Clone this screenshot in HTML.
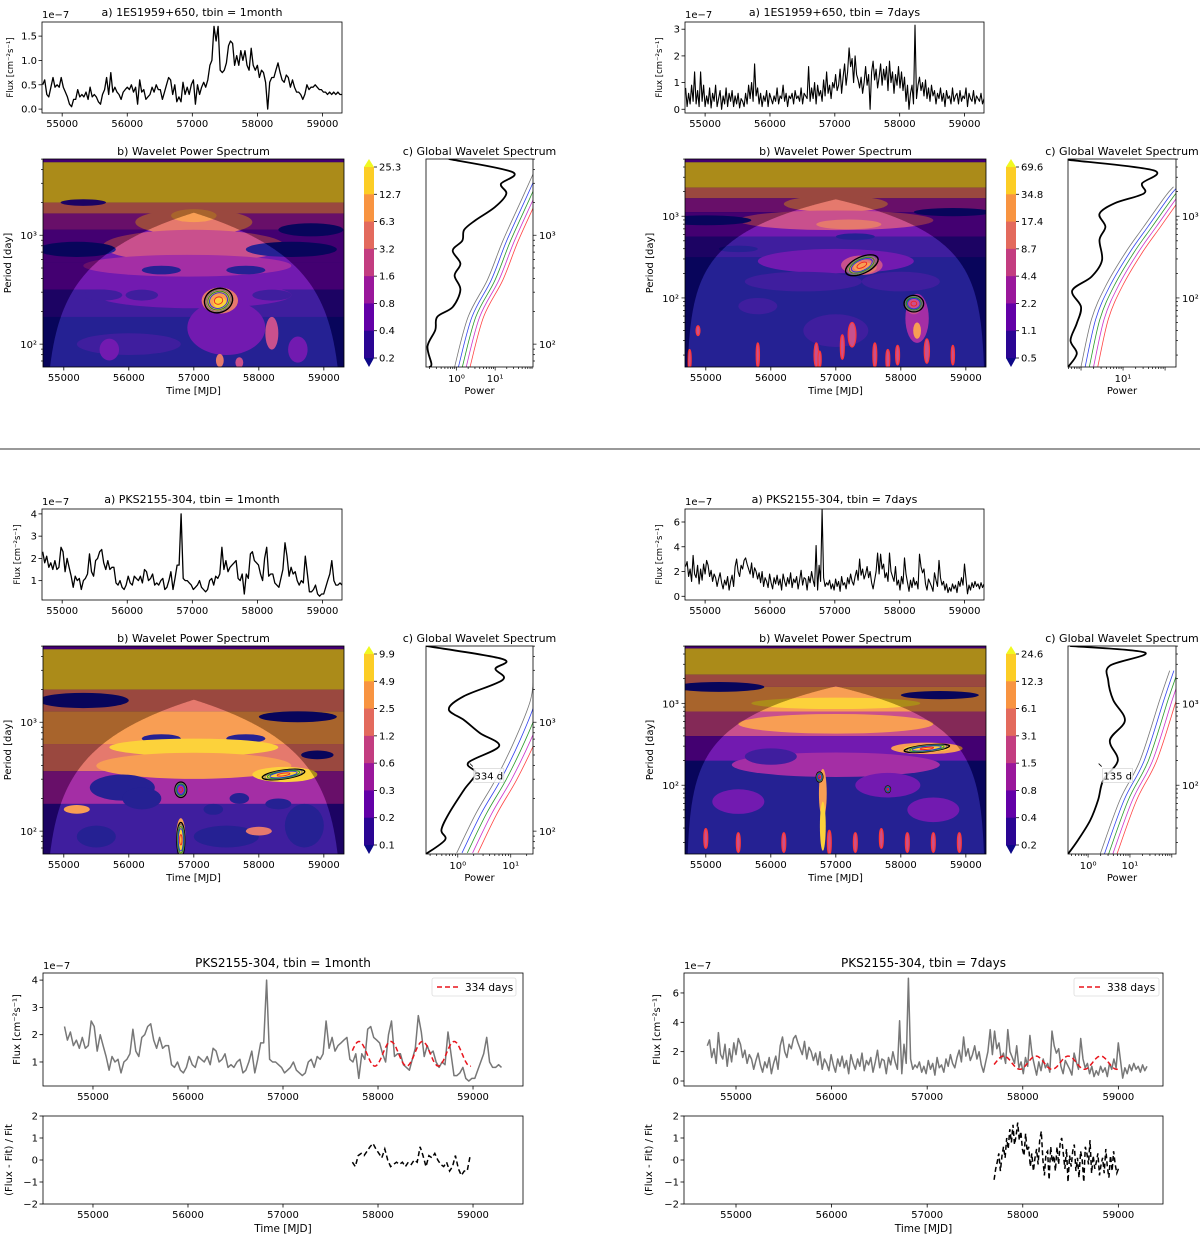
<!DOCTYPE html>
<html><head><meta charset="utf-8"><style>
html,body{margin:0;padding:0;background:#fff;}
svg{display:block;font-family:"DejaVu Sans","Liberation Sans",sans-serif;}
</style></head><body>
<svg id="fig" width="1200" height="1234" viewBox="0 0 1200 1234"></svg>
<script>
// ---------- DATA ----------
const lc1esMonth=[0.5,0.6,0.3,0.25,0.45,0.65,0.45,0.5,0.45,0.65,0.45,0.35,0.25,0.1,0.05,0.2,0.2,0.4,0.25,0.3,0.25,0.35,0.2,0.45,0.25,0.3,0.25,0.15,0.1,0.3,0.4,0.65,0.3,0.75,0.35,0.45,0.35,0.3,0.2,0.35,0.4,0.45,0.4,0.5,0.35,0.45,0.1,0.6,0.35,0.4,0.2,0.25,0.3,0.45,0.35,0.5,0.4,0.4,0.2,0.35,0.5,0.65,0.6,0.3,0.5,0.15,0.25,0.15,0.55,0.3,0.45,0.3,0.5,0.6,0.1,0.5,0.3,0.45,0.55,0.45,0.6,0.9,1.0,1.7,1.4,1.7,0.8,0.75,0.8,0.95,1.3,1.4,1.35,0.9,1.1,0.9,1.2,1.0,1.2,0.9,0.8,1.25,0.9,0.8,0.9,0.65,0.8,0.75,0.55,0.0,0.55,0.65,0.65,0.8,0.95,0.75,0.6,0.55,0.7,0.65,0.45,0.6,0.45,0.35,0.35,0.3,0.2,0.3,0.5,0.4,0.45,0.45,0.5,0.45,0.4,0.4,0.35,0.35,0.3,0.35,0.3,0.35,0.3,0.35,0.3,0.3];
const lc1esWeek=[0.8,0.1,0.6,0.2,0.9,0.3,1.4,0.2,0.7,0.1,1.4,0.3,0.9,0.1,0.5,0.2,0.8,0.05,0.6,0.3,0.9,0.1,0.4,0.7,0.0,0.5,0.2,0.8,0.1,0.6,0.3,0.7,0.1,0.5,0.2,0.6,0.05,0.4,0.3,0.1,0.6,0.2,0.9,0.4,1.0,0.3,1.7,0.5,0.8,0.2,0.6,0.1,0.5,0.3,0.7,0.1,0.6,0.4,0.2,0.5,0.3,0.8,0.2,0.5,0.4,0.9,0.3,0.6,0.1,0.5,0.4,0.6,0.2,0.7,0.4,0.5,0.3,0.8,0.2,0.6,0.5,0.4,1.6,0.3,0.8,0.4,1.0,0.2,0.9,0.5,0.7,0.3,1.1,0.5,1.4,0.6,0.9,0.4,1.0,0.8,1.3,0.7,0.9,1.5,0.6,1.2,1.7,0.9,1.4,2.3,1.6,1.9,1.0,2.0,1.3,1.1,0.8,1.2,0.6,1.0,1.6,0.9,1.3,0.0,1.4,1.8,1.1,1.5,0.8,1.2,1.7,0.9,1.5,1.1,1.6,0.7,1.8,1.0,1.4,0.6,1.3,0.9,1.6,0.8,1.4,0.7,1.2,0.3,0.9,0.0,0.6,0.9,0.2,3.15,0.4,0.9,1.2,0.7,1.0,0.5,1.1,0.4,0.8,0.3,0.9,0.5,0.7,0.2,0.6,0.4,0.8,0.3,0.6,0.1,0.7,0.4,0.5,0.2,0.8,0.3,0.5,0.6,0.2,0.7,0.3,0.5,0.4,0.8,0.1,0.6,0.4,0.3,0.7,0.2,0.5,0.4,0.3,0.6,0.2,0.4];
const lcPksMonth=[2.3,1.8,2.1,1.6,1.8,1.5,1.9,1.5,1.6,2.5,2.3,1.4,2.0,1.6,1.2,0.7,1.2,1.0,1.1,0.6,1.0,1.1,1.3,2.2,1.4,1.2,1.9,2.0,2.3,2.4,1.8,1.5,1.9,1.5,1.6,1.6,0.9,0.8,1.0,0.7,0.6,0.8,1.2,0.9,0.8,1.2,1.1,1.0,1.2,0.9,1.5,1.4,1.0,1.1,1.3,0.8,0.9,0.8,1.0,1.1,0.6,0.7,1.0,1.4,0.6,1.1,1.7,1.7,4.0,1.1,1.0,1.0,0.9,0.8,0.6,0.7,0.8,1.0,0.7,0.6,0.5,0.6,1.0,1.1,0.8,1.2,1.1,1.3,2.5,1.5,1.9,1.4,1.6,1.7,1.8,1.9,1.1,1.0,1.3,0.4,1.3,1.1,2.2,2.3,1.9,1.8,1.7,1.3,1.0,2.0,2.5,1.2,1.3,1.3,0.9,0.8,0.7,1.1,1.5,2.7,2.1,1.2,1.6,1.3,1.4,1.0,0.8,1.0,0.9,2.1,1.3,0.5,0.5,0.6,0.8,0.4,0.3,0.4,0.4,0.7,1.0,1.3,1.9,1.0,0.8,0.8,0.9,0.8];
const lcPksWeek=[2.4,2.8,1.6,2.2,1.2,3.3,1.8,1.5,2.5,1.0,2.2,1.3,2.6,1.8,2.9,2.5,1.6,2.1,1.2,1.8,1.5,0.8,1.4,1.9,1.1,0.6,1.3,0.9,1.6,0.5,1.2,1.7,0.8,2.4,3.0,2.0,1.6,2.5,2.2,2.9,3.1,2.6,2.2,1.8,2.7,1.5,2.3,2.0,1.4,1.9,1.1,2.0,0.8,1.5,1.2,0.7,1.8,1.1,0.6,1.5,1.0,1.7,0.9,1.4,0.5,1.8,1.2,0.8,1.5,1.0,1.9,0.7,1.4,1.1,1.6,0.6,1.3,2.1,0.9,1.5,1.4,0.5,1.6,1.1,2.0,1.3,0.8,4.1,0.5,2.5,1.2,7.0,1.5,0.8,1.1,0.9,1.3,0.6,1.0,0.5,1.4,0.8,1.2,0.4,1.6,0.9,1.1,0.6,1.5,1.0,1.8,1.2,0.9,1.6,2.1,1.3,3.0,1.7,2.2,1.4,1.8,2.4,1.5,2.0,1.1,0.6,1.3,2.0,3.5,1.8,3.4,2.2,2.6,1.5,1.9,1.2,3.5,2.0,1.6,1.2,2.4,0.9,1.3,0.5,1.6,1.0,3.1,1.8,1.1,0.4,1.3,0.7,1.5,0.9,1.2,0.6,3.4,2.4,1.9,2.2,1.0,0.5,1.4,1.1,0.8,0.4,1.9,1.3,0.8,2.9,1.5,0.9,1.2,0.5,1.0,0.3,0.7,0.4,1.0,0.6,0.9,0.3,1.2,0.8,1.5,0.9,2.6,1.4,0.2,0.9,0.5,1.1,0.7,1.2,0.8,1.0,0.6,1.1,0.7,1.0];
const lcSpan=[54700,59300];
const residMonth=[-0.1,-0.3,0.2,0.3,0.2,0.4,0.6,0.75,0.5,0.3,0.1,0.5,0.0,-0.3,-0.2,-0.1,-0.2,-0.1,-0.3,-0.1,-0.2,0.0,-0.1,0.6,0.2,-0.3,0.2,0.1,0.3,0.0,-0.2,-0.3,-0.1,-0.5,-0.3,0.2,-0.4,-0.7,-0.5,-0.5,0.2];
const residMonthSpan=[57730,58970];
const residWeek=[-0.9,-0.4,-0.1,0.3,-0.5,0.2,0.6,0.1,1.0,0.5,1.4,0.8,1.6,0.7,1.1,1.7,0.9,1.3,0.5,0.2,1.2,0.4,0.6,-0.3,0.3,-0.5,0.1,0.5,-0.2,0.9,1.3,0.0,-0.7,0.3,0.4,-0.9,0.6,-0.1,0.2,-0.5,0.6,-0.2,0.8,1.0,0.3,-0.4,0.5,-1.0,0.2,-0.3,0.4,0.7,-0.5,0.1,-0.8,0.4,0.0,-1.0,0.6,0.3,-0.2,0.9,-0.6,0.2,-0.4,-0.1,0.3,-0.7,-0.2,0.1,-0.6,0.5,-0.3,-0.8,0.2,-0.5,0.4,-0.2,-0.6,-0.4];
const residWeekSpan=[57700,59000];
// sinusoid fit parameters [period, amplitude, mean, peak time, start, end]
const fitMonth=[334,0.45,1.3,57800,57730,58980];
const fitWeek=[338,0.45,1.25,57800,57700,59000];
const fitLabels=['334 days','338 days'];
// colorbar tick labels
const cbTL=['25.3','12.7','6.3','3.2','1.6','0.8','0.4','0.2'];
const cbTR=['69.6','34.8','17.4','8.7','4.4','2.2','1.1','0.5'];
const cbML=['9.9','4.9','2.5','1.2','0.6','0.3','0.2','0.1'];
const cbMR=['24.6','12.3','6.1','3.1','1.5','0.8','0.4','0.2'];
// global wavelet spectrum: log10 period and log10 power
const gTL_lp=[3.70,3.58,3.47,3.38,3.26,3.14,3.05,2.95,2.86,2.74,2.63,2.50,2.34,2.25,2.13,1.98,1.82,1.79];
const gTL_pw=[-0.2,1.45,1.15,1.29,1.0,0.5,0.2,0.15,-0.1,0.1,-0.05,0.1,-0.1,-0.5,-0.55,-0.75,-0.65,-0.7];
const gTL_sigLp=[1.79,2.25,2.59,2.95,3.34,3.56];
const gTL_sigPw=[-0.05,0.3,0.8,1.2,1.7,1.98];
const gTR_lp=[3.69,3.56,3.40,3.28,3.16,3.03,2.87,2.71,2.46,2.26,2.09,1.89,1.69,1.48,1.32,1.16];
const gTR_pw=[-0.3,1.73,1.45,1.5,0.81,0.44,0.58,0.44,0.5,0.25,-0.21,0.0,-0.1,-0.25,-0.1,-0.3];
const gTR_sigLp=[1.16,1.74,2.14,2.55,2.87,3.24,3.36];
const gTR_sigPw=[0.0,0.25,0.58,1.05,1.49,2.0,2.2];
const gML_lp=[3.70,3.58,3.49,3.39,3.24,3.12,3.02,2.90,2.78,2.63,2.53,2.38,2.16,2.01,1.92,1.79];
const gML_pw=[-0.6,0.85,0.71,0.85,0.12,-0.17,0.12,0.42,0.78,0.2,0.34,0.12,-0.17,-0.31,-0.24,-0.6];
const gML_sigLp=[1.80,2.16,2.47,2.83,3.20,3.50];
const gML_sigPw=[-0.02,0.34,0.71,1.07,1.37,1.45];
const gMR_lp=[3.70,3.62,3.46,3.28,3.04,2.79,2.55,2.30,2.06,1.82,1.57,1.33,1.16];
const gMR_pw=[-0.43,1.36,0.52,0.48,0.6,0.88,0.52,0.71,0.36,0.24,0.05,-0.24,-0.48];
const gMR_sigLp=[1.16,1.82,2.30,3.04,3.40];
const gMR_sigPw=[0.29,0.76,1.24,1.71,1.95];
const sigOffsets=[0,0.1,0.2,0.3,0.4];

// ---------- helpers ----------
const NS='http://www.w3.org/2000/svg';
const svg=document.getElementById('fig');
function mk(tag,attrs,parent,name){
  const e=document.createElementNS(NS,tag);
  for(const k in attrs) e.setAttribute(k,attrs[k]);
  
  
  (parent||svg).appendChild(e);
  return e;
}
function txt(x,y,s,opt,parent,name){
  opt=opt||{};
  const a={x:x,y:y,'font-size':opt.size||10,'text-anchor':opt.anchor||'middle',fill:opt.fill||'#000'};
  if(opt.rot) a.transform='rotate('+opt.rot+' '+x+' '+y+')';
  const t=mk('text',a,parent,name);
  t.textContent=s;
  return t;
}
function lin(d0,d1,r0,r1){return v=>r0+(v-d0)/(d1-d0)*(r1-r0);}
function series(vals,span){const n=vals.length;return vals.map((v,i)=>[span[0]+i*(span[1]-span[0])/(n-1),v]);}
function pathD(pts,fx,fy){return pts.map((p,i)=>(i?'L':'M')+fx(p[0]).toFixed(1)+' '+fy(p[1]).toFixed(1)).join('');}
function smoothD(pts,fx,fy){
  const P=pts.map(p=>[fx(p[0]),fy(p[1])]);
  let d='M'+P[0][0].toFixed(1)+' '+P[0][1].toFixed(1);
  for(let i=0;i<P.length-1;i++){
    const p0=P[i-1]||P[i],p1=P[i],p2=P[i+1],p3=P[i+2]||P[i+1];
    const c1=[p1[0]+(p2[0]-p0[0])/6,p1[1]+(p2[1]-p0[1])/6],c2=[p2[0]-(p3[0]-p1[0])/6,p2[1]-(p3[1]-p1[1])/6];
    d+='C'+c1[0].toFixed(1)+' '+c1[1].toFixed(1)+' '+c2[0].toFixed(1)+' '+c2[1].toFixed(1)+' '+p2[0].toFixed(1)+' '+p2[1].toFixed(1);
  }
  return d;
}
let clipId=0;
function clip(x0,y0,x1,y1){const id='c'+(clipId++);const c=mk('clipPath',{id:id},svg,'clip-region');mk('rect',{x:x0,y:y0,width:x1-x0,height:y1-y0},c,'clip-rect');return 'url(#'+id+')';}

function frame(x0,y0,x1,y1,g,name){mk('rect',{x:x0,y:y0,width:x1-x0,height:y1-y0,fill:'none',stroke:'#000','stroke-width':0.8},g,name);}
function xTicks(g,fx,ticks,yb,labelY){
  ticks.forEach(t=>{const x=fx(t);mk('line',{x1:x,x2:x,y1:yb,y2:yb+3.5,stroke:'#000','stroke-width':0.8},g,'x-tick');txt(x,labelY,String(t),{size:10},g,'x-tick-label');});
}
function yTicks(g,fy,ticks,labels,xl){
  ticks.forEach((t,i)=>{const y=fy(t);mk('line',{x1:xl-3.5,x2:xl,y1:y,y2:y,stroke:'#000','stroke-width':0.8},g,'y-tick');txt(xl-5,y+3.5,labels[i],{size:10,anchor:'end'},g,'y-tick-label');});
}

// ---------- light-curve panel ----------
function lcPanel(c){
  const g=mk('g',{},svg,c.name);
  const fx=lin(c.td[0],c.td[1],c.x0,c.x1), fy=lin(c.yd[0],c.yd[1],c.y1,c.y0);
  const cp=clip(c.x0,c.y0,c.x1,c.y1);
  const pg=mk('g',{'clip-path':cp},g,'plot-area');
  mk('path',{d:pathD(series(c.vals,c.span),fx,fy),fill:'none',stroke:c.color,'stroke-width':c.lw||1.3,'stroke-linejoin':'round'},pg,'flux-line');
  if(c.fit){
    const f=c.fit,pts=[];
    for(let t=f[4];t<=f[5];t+=6) pts.push([t,f[2]+f[1]*Math.cos(2*Math.PI*(t-f[3])/f[0])]);
    mk('path',{d:pathD(pts,fx,fy),fill:'none',stroke:'#e8141c','stroke-width':1.5,'stroke-dasharray':'5,3'},pg,'sine-fit-line');
  }
  frame(c.x0,c.y0,c.x1,c.y1,g,'axes-frame');
  xTicks(g,fx,c.xt,c.y1,c.y1+14);
  yTicks(g,fy,c.yt,c.yt.map(v=>c.yfmt?c.yfmt(v):String(v)),c.x0);
  txt(c.x0,c.y0-4,'1e\u22127',{size:10,anchor:'start'},g,'exponent-label');
  txt((c.x0+c.x1)/2,c.titleY,c.title,{size:c.tsize||11},g,'panel-title');
  txt(c.ylx,(c.y0+c.y1)/2,'Flux [cm\u207B\u00B2s\u207B\u00B9]',{size:c.ylsize||9.5,rot:-90},g,'y-axis-title');
  if(c.fit){
    const lg=mk('g',{},g,'legend');
    mk('rect',{x:c.leg[0],y:c.leg[1],width:c.leg[2],height:18,fill:'#fff',stroke:'#ddd','stroke-width':0.8,rx:2},lg,'legend-box');
    mk('line',{x1:c.leg[0]+5,x2:c.leg[0]+27,y1:c.leg[1]+9,y2:c.leg[1]+9,stroke:'#e8141c','stroke-width':1.5,'stroke-dasharray':'5,3'},lg,'legend-swatch');
    txt(c.leg[0]+33,c.leg[1]+13,c.fitLabel,{size:10.5,anchor:'start'},lg,'legend-entry');
  }
  return {fx,fy};
}
function residPanel(c){
  const g=mk('g',{},svg,c.name);
  const fx=lin(c.td[0],c.td[1],c.x0,c.x1), fy=lin(-2,2,c.y1,c.y0);
  mk('path',{d:pathD(series(c.vals,c.span),fx,fy),fill:'none',stroke:'#000','stroke-width':1.5,'stroke-dasharray':'5,3'},g,'residual-line');
  frame(c.x0,c.y0,c.x1,c.y1,g,'axes-frame');
  xTicks(g,fx,c.xt,c.y1,c.y1+14);
  yTicks(g,fy,[-2,-1,0,1,2],['\u22122','\u22121','0','1','2'],c.x0);
  txt(c.ylx,(c.y0+c.y1)/2,'(Flux - Fit) / Fit',{size:10,rot:-90},g,'y-axis-title');
  txt((c.x0+c.x1)/2,c.y1+28,'Time [MJD]',{size:10.5},g,'x-axis-title');
}

// ---------- wavelet panel ----------
const levelColors=['#0d0887','#2a0593','#6300a7','#9a179b','#c33d80','#e36a5d','#f89441','#fccd25','#f0f921'];
function wavePanel(c){
  const g=mk('g',{},svg,c.name);
  const fx=lin(c.td[0],c.td[1],c.x0,c.x1), fy=lin(c.lpBot,c.lpTop,c.y1,c.y0);
  const dec=(c.y1-c.y0)/(c.lpTop-c.lpBot), dpx=(c.x1-c.x0)/(c.td[1]-c.td[0]);
  const cp=clip(c.x0,c.y0,c.x1,c.y1);
  const fg=mk('g',{'clip-path':cp},g,'wavelet-power-field');
  mk('rect',{x:c.x0,y:c.y0,width:c.x1-c.x0,height:c.y1-c.y0,fill:levelColors[0]},fg,'power-background');
  c.bands.forEach(b=>{mk('rect',{x:c.x0,y:fy(b[0]),width:c.x1-c.x0,height:fy(b[1])-fy(b[0]),fill:levelColors[b[2]]},fg,'power-band');});
  c.blobs.forEach(b=>{mk('ellipse',{cx:fx(b[0]),cy:fy(b[1]),rx:b[2]*dpx,ry:b[3]*dec,fill:levelColors[b[4]]},fg,'power-contour-region');});
  (c.streaks||[]).forEach(t=>{mk('ellipse',{cx:fx(t[0]),cy:fy(t[1]),rx:t[2]*dpx,ry:t[3]*dec,fill:levelColors[4],stroke:'#ff2020','stroke-width':1.2},fg,'significant-streak');});
  const pts=[];const k=0.7;
  for(let t=c.td[0];t<=c.td[1];t+=10){const d=Math.min(t-lcSpan[0],lcSpan[1]-t);const p=Math.max(d*k,1);pts.push([t,Math.max(Math.log10(p),c.lpBot-1)]);}
  const coi=pts.map((p,i)=>(i?'L':'M')+fx(p[0]).toFixed(1)+' '+fy(p[1]).toFixed(1)).join('')+'Z';
  mk('path',{d:'M'+c.x0+' '+c.y0+'H'+c.x1+'V'+c.y1+'H'+c.x0+'Z'+coi,'fill-rule':'evenodd',fill:'#000','fill-opacity':0.32},fg,'cone-of-influence-shade');
  mk('path',{d:coi,fill:'#fff','fill-opacity':0.1},fg,'cone-of-influence');
  const cc=['#000','#777','#1a9a1a','#2233dd','#ee2222'],cs=[1,0.88,0.76,0.64,0.3];
  c.contours.forEach(ct=>{cc.forEach((col,i)=>{mk('ellipse',{cx:fx(ct[0]),cy:fy(ct[1]),rx:ct[2]*dpx*cs[i],ry:ct[3]*dec*cs[i],fill:'none',stroke:col,'stroke-width':i?0.9:1.4,transform:'rotate('+(ct[4]||0)+' '+fx(ct[0])+' '+fy(ct[1])+')'},fg,'significance-contour');});});
  frame(c.x0,c.y0,c.x1,c.y1,g,'axes-frame');
  xTicks(g,fx,[55000,56000,57000,58000,59000],c.y1,c.y1+14);
  logYTicks(g,fy,c.lpBot,c.lpTop,c.x0,-1,true);
  txt((c.x0+c.x1)/2,c.y0-4,'b) Wavelet Power Spectrum',{size:11},g,'panel-title');
  txt((c.x0+c.x1)/2,c.y1+27,'Time [MJD]',{size:10},g,'x-axis-title');
  txt(c.x0-32,(c.y0+c.y1)/2,'Period [day]',{size:10,rot:-90},g,'y-axis-title');
  const cb=mk('g',{},g,'colorbar');
  const cx=c.cbx,top=c.y0+8,bot=c.y1-9,seg=(bot-top)/7;
  for(let i=0;i<7;i++) mk('rect',{x:cx,y:top+i*seg,width:10,height:seg+0.5,fill:levelColors[7-i]},cb,'colorbar-segment');
  mk('path',{d:'M'+cx+' '+top+'L'+(cx+5)+' '+c.y0+'L'+(cx+10)+' '+top+'Z',fill:levelColors[8]},cb,'colorbar-extend-max');
  mk('path',{d:'M'+cx+' '+bot+'L'+(cx+5)+' '+c.y1+'L'+(cx+10)+' '+bot+'Z',fill:levelColors[0]},cb,'colorbar-extend-min');
  c.cbLabels.forEach((l,i)=>{const y=top+i*seg;mk('line',{x1:cx+10,x2:cx+13,y1:y,y2:y,stroke:'#000','stroke-width':0.8},cb,'colorbar-tick');txt(cx+15,y+3.5,l,{size:10,anchor:'start'},cb,'colorbar-label');});
  const gg=mk('g',{},g,'global-wavelet-spectrum');
  const gx=lin(c.gpd[0],c.gpd[1],c.gx0,c.gx1);
  const gcp=clip(c.gx0,c.y0,c.gx1,c.y1);
  const gpl=mk('g',{'clip-path':gcp},gg,'global-plot-area');
  const sc=['#777','#3344ee','#2a9a2a','#cc33cc','#ff4444'];
  sigOffsets.forEach((o,i)=>{const p=c.gSigLp.map((lp,j)=>[c.gSigPw[j]+o,lp]);mk('path',{d:smoothD(p,gx,fy),fill:'none',stroke:sc[i],'stroke-width':0.8},gpl,'significance-line');});
  const bp=c.gLp.map((lp,j)=>[c.gPw[j],lp]);
  mk('path',{d:smoothD(bp,gx,fy),fill:'none',stroke:'#000','stroke-width':1.8,'stroke-linejoin':'round'},gpl,'global-power-line');
  frame(c.gx0,c.y0,c.gx1,c.y1,gg,'global-axes-frame');
  for(let d=-1;d<=2;d++){for(let m=1;m<10;m++){const v=d+Math.log10(m);if(v<c.gpd[0]||v>c.gpd[1])continue;const x=gx(v);mk('line',{x1:x,x2:x,y1:c.y1,y2:c.y1+(m===1?3.5:2),stroke:'#000','stroke-width':0.7},gg,'power-tick');}}
  c.gTicks.forEach(d=>{txt(gx(d),c.y1+15,'10'+(d===0?'\u2070':'\u00B9'),{size:10},gg,'power-tick-label');});
  logYTicks(gg,fy,c.lpBot,c.lpTop,c.gx1,1,true);
  txt((c.gx0+c.gx1)/2,c.y1+27,'Power',{size:10},gg,'x-axis-title');
  txt((c.gx0+c.gx1)/2,c.y0-4,'c) Global Wavelet Spectrum',{size:11},gg,'panel-title');
  if(c.annot){
    const a=c.annot,ax=gx(a[1]),ay=fy(a[0]);
    mk('path',{d:'M'+(ax-4)+' '+(ay-8)+'l-3 -3',stroke:'#000','stroke-width':0.8,fill:'none'},gg,'annotation-arrow');
    mk('rect',{x:ax-3,y:ay-6,width:30,height:14,fill:'#fff','fill-opacity':0.8,stroke:'#ccc','stroke-width':0.6},gg,'annotation-box');
    txt(ax+12,ay+5,a[2],{size:10},gg,'peak-annotation');
  }
}
function logYTicks(g,fy,lp0,lp1,x,dir,labels){
  for(let d=1;d<=3;d++){for(let m=1;m<10;m++){const v=d+Math.log10(m);if(v<lp0||v>lp1)continue;const y=fy(v);mk('line',{x1:x,x2:x+dir*(m===1?3.5:2),y1:y,y2:y,stroke:'#000','stroke-width':0.7},g,'period-tick');
    if(m===1&&labels&&d>=2){txt(x+dir*6,y+4,'10'+(d===2?'\u00B2':'\u00B3'),{size:10,anchor:dir<0?'end':'start'},g,'period-tick-label');}}}
}

// ---------- build ----------
lcPanel({name:'lc-1es-month',x0:42,x1:342,y0:22,y1:113,td:[54690,59300],yd:[-0.08,1.79],xt:[55000,56000,57000,58000,59000],yt:[0,0.5,1.0,1.5],yfmt:v=>v.toFixed(1),vals:lc1esMonth,span:lcSpan,color:'#000',title:'a) 1ES1959+650, tbin = 1month',titleY:16,ylx:13,ylsize:8.5});
lcPanel({name:'lc-1es-week',x0:685,x1:984,y0:22,y1:113,td:[54690,59300],yd:[-0.14,3.27],xt:[55000,56000,57000,58000,59000],yt:[0,1,2,3],vals:lc1esWeek,span:lcSpan,color:'#000',lw:1.1,title:'a) 1ES1959+650, tbin = 7days',titleY:16,ylx:662,ylsize:8.5});
lcPanel({name:'lc-pks-month',x0:42,x1:342,y0:509,y1:600,td:[54690,59300],yd:[0.13,4.22],xt:[55000,56000,57000,58000,59000],yt:[1,2,3,4],vals:lcPksMonth,span:lcSpan,color:'#000',title:'a) PKS2155-304, tbin = 1month',titleY:503,ylx:20,ylsize:8.5});
lcPanel({name:'lc-pks-week',x0:685,x1:984,y0:509,y1:600,td:[54690,59300],yd:[-0.3,7.05],xt:[55000,56000,57000,58000,59000],yt:[0,2,4,6],vals:lcPksWeek,span:lcSpan,color:'#000',lw:1.1,title:'a) PKS2155-304, tbin = 7days',titleY:503,ylx:662,ylsize:8.5});

wavePanel({name:'wavelet-1es-month',x0:43,x1:344,y0:159,y1:367,td:[54680,59310],lpTop:3.70,lpBot:1.79,cbx:364,cbLabels:cbTL,
 bands:[[3.70,3.67,2],[3.67,3.30,7],[3.30,3.20,5],[3.20,3.05,3],[3.05,2.75,2],[2.75,2.50,2],[2.50,2.25,1]],
 blobs:[[57000,3.12,900,0.12,5],[57000,3.18,350,0.06,6],[57000,2.9,1400,0.15,4],[56900,2.72,1600,0.1,3],[55200,2.87,600,0.07,0],[58800,3.05,500,0.06,0],[58500,2.87,700,0.07,0],[56500,2.68,300,0.04,0],[57800,2.68,300,0.04,0],[55300,3.3,350,0.03,1],[57000,2.45,1500,0.12,2],[55600,2.45,300,0.05,1],[56200,2.45,250,0.05,1],[58200,2.45,300,0.05,1],[57500,2.15,600,0.25,2],[56000,2.0,800,0.1,1],[55700,1.95,150,0.1,2],[58600,1.95,150,0.12,2],[58200,2.1,100,0.15,4],[57400,2.4,280,0.12,5],[57400,2.4,180,0.09,6],[57400,2.38,100,0.05,7],[57400,1.85,60,0.06,5],[57700,1.83,60,0.05,4]],
 contours:[[57380,2.40,220,0.11,-20]],
 gx0:426,gx1:533,gpd:[-0.79,1.98],gTicks:[0,1],gLp:gTL_lp,gPw:gTL_pw,gSigLp:gTL_sigLp,gSigPw:gTL_sigPw});
wavePanel({name:'wavelet-1es-week',x0:685,x1:986,y0:159,y1:367,td:[54680,59310],lpTop:3.70,lpBot:1.155,cbx:1006,cbLabels:cbTR,
 bands:[[3.70,3.66,2],[3.66,3.35,7],[3.35,3.22,5],[3.22,3.05,3],[3.05,2.75,2],[2.75,2.5,1]],
 blobs:[[57000,3.15,800,0.1,5],[57000,2.95,1500,0.12,4],[57200,2.9,500,0.06,5],[55000,2.95,700,0.06,0],[58800,3.05,600,0.05,0],[57300,2.75,300,0.04,0],[55500,2.6,300,0.04,0],[57000,2.45,1200,0.15,2],[56500,2.2,900,0.12,1],[58000,2.2,600,0.12,1],[57400,2.4,320,0.12,4],[57400,2.38,230,0.09,5],[57420,2.38,150,0.06,6],[58250,1.75,180,0.3,3],[58200,1.9,120,0.1,4],[58250,1.6,60,0.1,6],[55800,1.9,300,0.1,1],[57000,1.6,500,0.2,1]],
 streaks:[[54880,1.6,30,0.06],[55800,1.3,25,0.15],[56700,1.3,35,0.15],[56750,1.25,25,0.1],[57100,1.4,30,0.15],[57250,1.55,60,0.15],[57600,1.3,30,0.15],[57800,1.25,30,0.12],[57950,1.3,30,0.12],[58400,1.35,40,0.15],[58800,1.3,25,0.12],[54750,1.25,25,0.12]],
 contours:[[57400,2.4,270,0.1,-25],[58200,1.93,150,0.1,0]],
 gx0:1068,gx1:1176,gpd:[-0.31,2.26],gTicks:[1],gLp:gTR_lp,gPw:gTR_pw,gSigLp:gTR_sigLp,gSigPw:gTR_sigPw});
wavePanel({name:'wavelet-pks-month',x0:43,x1:344,y0:646,y1:854,td:[54680,59310],lpTop:3.70,lpBot:1.79,cbx:364,cbLabels:cbML,
 bands:[[3.70,3.67,2],[3.67,3.30,7],[3.30,3.10,5],[3.10,2.80,6],[2.80,2.55,5],[2.55,2.25,3],[2.25,1.79,1]],
 blobs:[[55300,3.2,700,0.07,0],[58600,3.05,600,0.05,0],[56500,2.85,300,0.04,0],[57800,2.85,300,0.04,0],[58900,2.7,250,0.04,0],[57000,2.77,1300,0.08,7],[57000,2.6,1500,0.12,6],[55900,2.4,500,0.12,0],[56200,2.3,300,0.1,0],[57300,2.2,150,0.05,0],[57700,2.3,150,0.05,0],[58300,2.25,200,0.05,0],[58700,2.05,300,0.2,0],[55500,1.95,300,0.1,0],[57500,1.95,500,0.1,0],[55200,2.2,200,0.04,6],[58000,2.0,200,0.04,5],[58400,2.52,500,0.07,7],[56800,1.95,70,0.17,6],[56800,1.9,35,0.12,7]],
 contours:[[56800,2.38,90,0.07,0],[58380,2.52,330,0.04,-8],[56800,1.92,60,0.16,0]],
 gx0:426,gx1:533,gpd:[-0.6,1.42],gTicks:[0,1],gLp:gML_lp,gPw:gML_pw,gSigLp:gML_sigLp,gSigPw:gML_sigPw,annot:[2.52,0.36,'334 d']});
wavePanel({name:'wavelet-pks-week',x0:685,x1:986,y0:646,y1:854,td:[54680,59310],lpTop:3.70,lpBot:1.16,cbx:1006,cbLabels:cbMR,
 bands:[[3.70,3.67,2],[3.67,3.35,7],[3.35,3.2,5],[3.2,2.9,6],[2.9,2.6,4],[2.6,2.3,2]],
 blobs:[[55200,3.2,700,0.06,0],[58600,3.1,600,0.05,0],[57000,3.0,1300,0.07,7],[57000,2.75,1500,0.12,6],[58400,2.45,550,0.07,6],[58400,2.45,350,0.04,7],[57000,2.25,1600,0.15,3],[56000,2.35,400,0.1,1],[57800,2.0,500,0.15,2],[55500,1.8,400,0.15,2],[58500,1.7,400,0.15,2],[56800,1.9,60,0.3,6],[56800,1.5,45,0.3,7]],
 streaks:[[55000,1.35,30,0.12],[55500,1.3,30,0.12],[56200,1.3,30,0.12],[56900,1.3,30,0.15],[57300,1.3,30,0.12],[57700,1.35,30,0.12],[58100,1.3,30,0.12],[58500,1.3,30,0.12],[58900,1.3,30,0.12]],
 contours:[[58400,2.45,350,0.04,-6],[56750,2.1,50,0.06,0],[57800,1.95,40,0.04,0]],
 gx0:1068,gx1:1176,gpd:[-0.48,2.1],gTicks:[0,1],gLp:gMR_lp,gPw:gMR_pw,gSigLp:gMR_sigLp,gSigPw:gMR_sigPw,annot:[2.13,0.42,'135 d']});

mk('line',{x1:0,x2:1200,y1:449,y2:449,stroke:'#333','stroke-width':1},svg,'section-separator');

lcPanel({name:'fit-pks-month',x0:43,x1:523,y0:973,y1:1086,td:[54474,59526],yd:[0.12,4.26],xt:[55000,56000,57000,58000,59000],yt:[1,2,3,4],vals:lcPksMonth,span:lcSpan,color:'#777',lw:1.5,fit:fitMonth,fitLabel:fitLabels[0],leg:[432,978,84],title:'PKS2155-304, tbin = 1month',titleY:967,tsize:12,ylx:20,ylsize:10});
residPanel({name:'resid-pks-month',x0:43,x1:523,y0:1116,y1:1204,td:[54474,59526],xt:[55000,56000,57000,58000,59000],vals:residMonth,span:residMonthSpan,ylx:12});
lcPanel({name:'fit-pks-week',x0:684,x1:1163,y0:973,y1:1086,td:[54456,59467],yd:[-0.34,7.36],xt:[55000,56000,57000,58000,59000],yt:[0,2,4,6],vals:lcPksWeek,span:lcSpan,color:'#777',lw:1.5,fit:fitWeek,fitLabel:fitLabels[1],leg:[1074,978,85],title:'PKS2155-304, tbin = 7days',titleY:967,tsize:12,ylx:660,ylsize:10});
residPanel({name:'resid-pks-week',x0:684,x1:1163,y0:1116,y1:1204,td:[54456,59467],xt:[55000,56000,57000,58000,59000],vals:residWeek,span:residWeekSpan,ylx:652});
</script>
</body></html>
